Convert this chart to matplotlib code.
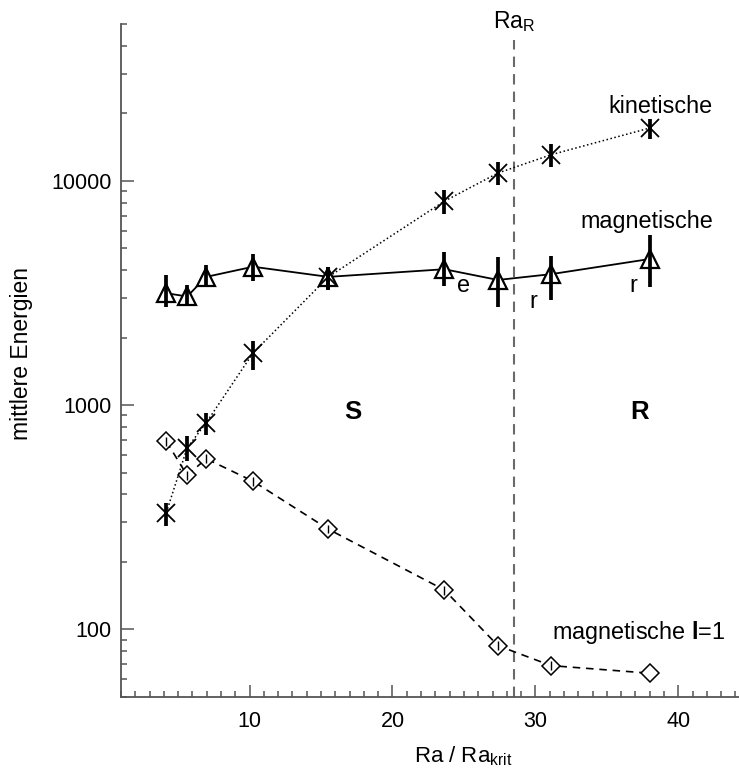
import matplotlib
matplotlib.use("Agg")
import matplotlib.pyplot as plt
from matplotlib.ticker import FixedLocator, FuncFormatter, LogLocator, MultipleLocator
import numpy as np

plt.rcParams['font.family'] = ['Liberation Sans', 'DejaVu Sans']
plt.rcParams['mathtext.fontset'] = 'custom'
plt.rcParams['mathtext.rm'] = 'Liberation Sans'
plt.rcParams['mathtext.it'] = 'Liberation Sans'
plt.rcParams['mathtext.bf'] = 'Liberation Sans:bold'

# ---- data ----
ra = [4.17, 5.63, 6.96, 10.24, 15.51, 23.63, 27.38, 31.10, 38.05]

kin = [332, 645, 834, 1706, 3730, 8110, 10830, 13070, 17220]
kin_hi = [367, 726, 922, 1923, 4140, 9073, 12120, 14630, 18880]
kin_lo = [289, 562, 739, 1439, 3258, 7146, 9550, 11520, 15420]

mag = [3155, 3050, 3730, 4140, 3730, 4035, 3614, 3836, 4486]
mag_hi = [3802, 3435, 4207, 4713, 4140, 4828, 4584, 4637, 5724]
mag_lo = [2748, 2800, 3373, 3592, 3258, 3397, 2731, 2944, 3350]

mag_l1 = [690, 486, 577, 458, 280, 150, 84.7, 69.0, 63.8]
mag_l1_err = [30, 22, 26, 20, 12, 7, 4, 3, 0]

ra_R = 28.5

xlim = (1.0, 44.25)
ylim = (50, 50000)
yticks = [100, 1000, 10000]
xticks = [10, 20, 30, 40]

# ---- figure ----
W, H = 739, 771
fig = plt.figure(figsize=(W / 100, H / 100), dpi=100)
L, R, T, B = 121, 739, 24, 697
ax = fig.add_axes([L / W, (H - B) / H, (R - L) / W, (B - T) / H])

ax.set_xscale('linear')
ax.set_yscale('log')
ax.set_xlim(*xlim)
ax.set_ylim(*ylim)

# vertical Ra_R line
ax.axvline(ra_R, ymin=0, ymax=0.976, color='#6a6a6a', lw=1.5,
           linestyle=(0, (5, 3.4)), zorder=1)
ax.text(ra_R, 0.994, r'Ra$_{\mathrm{R}}$', transform=ax.get_xaxis_transform(),
        ha='center', va='baseline', fontsize=16.5)

# lines
ax.plot(ra, kin, color='black', lw=1.1, linestyle=':', zorder=2)
ax.plot(ra, mag, color='black', lw=1.3, linestyle='-', zorder=2)
ax.plot(ra, mag_l1, color='black', lw=1.2, linestyle=(0, (4.5, 3.5)), zorder=2)

# markers
ax.plot(ra, mag, linestyle='none', marker='^', ms=13.5, mfc='white',
        mec='black', mew=1.6, zorder=3)
ax.plot(ra, mag_l1, linestyle='none', marker='D', ms=9.3, mfc='white',
        mec='black', mew=1.1, zorder=3)

# error bars
l1_a = np.array(mag_l1)
ax.vlines(ra, kin_lo, kin_hi, color='black', lw=2.7, zorder=4)
ax.vlines(ra, mag_lo, mag_hi, color='black', lw=2.7, zorder=4)
ax.vlines(ra, l1_a - np.array(mag_l1_err), l1_a + np.array(mag_l1_err),
          color='black', lw=1.0, zorder=4)

ax.plot(ra, kin, linestyle='none', marker='x', ms=13.5, mec='black',
        mew=1.3, zorder=5)

# spines and ticks
for s in ['top', 'right']:
    ax.spines[s].set_visible(False)
for s in ['left', 'bottom']:
    ax.spines[s].set_color('#555555')
    ax.spines[s].set_linewidth(1.3)

ax.xaxis.set_major_locator(FixedLocator(xticks))
ax.xaxis.set_minor_locator(MultipleLocator(1))
ax.yaxis.set_major_locator(FixedLocator(yticks))
ax.yaxis.set_minor_locator(LogLocator(base=10, subs=np.arange(2, 10)))
ax.yaxis.set_major_formatter(FuncFormatter(lambda v, p: f"{int(round(v))}"))
ax.yaxis.set_minor_formatter(FuncFormatter(lambda v, p: ""))
ax.xaxis.set_major_formatter(FuncFormatter(lambda v, p: f"{int(round(v))}"))

ax.tick_params(which='both', direction='in', color='#555555', width=1.1,
               labelsize=15.5, labelcolor='black')
ax.tick_params(which='major', length=9)
ax.tick_params(which='minor', length=4)
ax.tick_params(axis='x', which='both', pad=10)
ax.tick_params(axis='y', which='both', pad=6.5)

ax.set_xlabel(r'Ra / Ra$_{\mathrm{krit}}$', fontsize=16)
ax.set_ylabel('mittlere Energien', fontsize=16.5)
ax.xaxis.set_label_coords((463 - L) / (R - L), (B - 756) / (B - T), transform=ax.transAxes)
ax.yaxis.set_label_coords((22 - L) / (R - L), (B - 353) / (B - T), transform=ax.transAxes)
ax.xaxis.label.set_va('center')
ax.yaxis.label.set_va('center')

def fx(px):
    return (px - L) / (R - L)

def fy(py):
    return (B - py) / (B - T)

fs = 16.8
ax.text(fx(713), fy(113), 'kinetische', transform=ax.transAxes, ha='right', va='baseline', fontsize=fs)
ax.text(fx(713), fy(228), 'magnetische', transform=ax.transAxes, ha='right', va='baseline', fontsize=fs)
ax.text(fx(463), fy(291.5), 'e', transform=ax.transAxes, ha='center', va='baseline', fontsize=fs)
ax.text(fx(533), fy(308), 'r', transform=ax.transAxes, ha='center', va='baseline', fontsize=fs)
ax.text(fx(633), fy(291.5), 'r', transform=ax.transAxes, ha='center', va='baseline', fontsize=fs)
ax.text(fx(353), fy(419), 'S', transform=ax.transAxes, ha='center', va='baseline', fontsize=18.5, fontweight='bold')
ax.text(fx(640), fy(419), 'R', transform=ax.transAxes, ha='center', va='baseline', fontsize=18.5, fontweight='bold')
ax.text(fx(552), fy(639.3), r'magnetische $\mathbf{l}$=1', transform=ax.transAxes, ha='left', va='baseline', fontsize=fs)

fig.savefig('out.png', dpi=100)
